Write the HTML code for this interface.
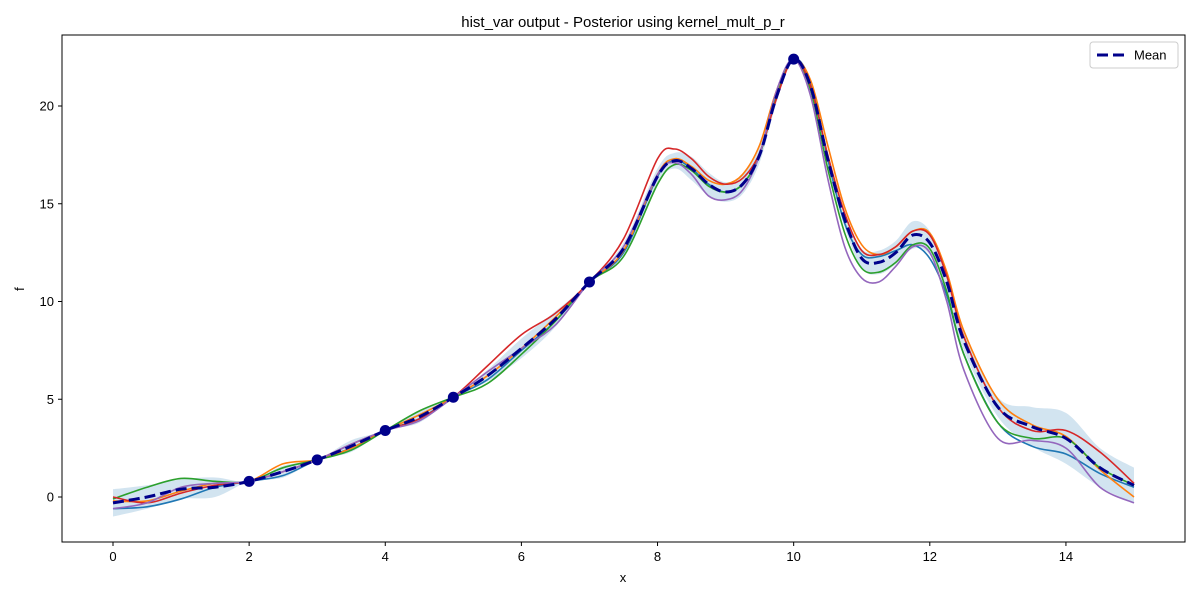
<!DOCTYPE html>
<html><head><meta charset="utf-8"><style>
body{margin:0;background:#fff;font-family:"Liberation Sans","DejaVu Sans",sans-serif}
svg text{font-family:"Liberation Sans","DejaVu Sans",sans-serif;fill:#000}
</style></head><body>
<svg id="chart" width="1200" height="600"></svg>
<script>
const xs=[0,0.5,1,1.5,2,2.5,3,3.5,4,4.5,5,5.5,6,6.5,7,7.5,8,8.25,8.5,8.75,9,9.25,9.5,9.75,10,10.25,10.5,10.75,11,11.25,11.5,11.75,12,12.25,12.5,13,13.5,14,14.5,15];
const meanVals=[-0.3,0,0.4,0.5,0.8,1.3,1.9,2.6,3.4,4.1,5.1,6.2,7.6,9.1,11.0,12.7,16.4,17.2,16.8,16.0,15.6,16.0,17.5,20.5,22.4,21.0,17.3,14.2,12.2,12.0,12.5,13.4,13.0,11.0,8.0,4.6,3.6,3.0,1.5,0.6];
const sdVals=[0.7,0.6,0.5,0.5,0,0.3,0,0.3,0,0.3,0,0.3,0.5,0.4,0,0.3,0.4,0.4,0.6,0.6,0.5,0.5,0.4,0.3,0,0.3,0.4,0.4,0.5,0.6,0.6,0.7,0.6,0.5,0.5,0.5,1.0,1.3,1.0,0.9];
const blueVals=[-0.6,-0.5,-0.1,0.5,0.8,1.1,1.9,2.5,3.4,4.0,5.1,6.0,7.5,9.0,11.0,12.5,16.4,17.2,16.8,16.0,15.6,16.0,17.5,20.5,22.4,21.2,17.3,14.0,12.4,12.3,12.6,12.9,12.2,10.3,7.3,3.8,2.6,2.2,1.2,0.5];
const orangeVals=[-0.2,-0.2,0.3,0.7,0.8,1.7,1.9,2.5,3.4,4.2,5.1,6.2,7.6,9.2,11.0,12.6,16.5,17.3,16.9,16.2,16.0,16.5,18.0,20.8,22.4,21.3,18.0,14.8,12.9,12.4,12.8,13.6,13.5,11.5,8.5,5.0,3.7,3.1,1.4,0.0];
const greenVals=[-0.1,0.5,0.95,0.8,0.8,1.5,1.9,2.4,3.4,4.4,5.1,5.8,7.3,9.0,11.0,12.3,16.0,17.0,16.7,15.9,15.6,16.0,17.5,20.5,22.4,20.8,16.8,13.5,11.7,11.5,12.0,12.9,12.7,10.5,7.3,3.8,3.0,3.0,1.5,0.6];
const redVals=[0,-0.3,0.2,0.6,0.8,1.3,1.9,2.7,3.4,4.0,5.1,6.7,8.3,9.4,11.0,13.2,17.3,17.8,17.3,16.4,16.0,16.3,17.6,20.4,22.4,21.0,17.5,14.5,12.6,12.4,12.8,13.6,13.4,11.3,8.2,4.6,3.4,3.4,2.3,0.7];
const purpleVals=[-0.6,-0.3,0.5,0.7,0.8,1.3,1.9,2.7,3.4,3.9,5.1,6.4,7.6,8.8,11.0,12.8,16.5,17.1,16.5,15.4,15.2,15.7,17.5,20.8,22.4,20.5,16.3,12.8,11.2,11.0,11.8,12.8,12.5,10.0,6.5,3.0,2.9,2.5,0.5,-0.3];
const obsX=[2,3,4,5,7,10];
const obsY=[0.8,1.9,3.4,5.1,11.0,22.4];
const xTicks=[0,2,4,6,8,10,12,14];
const yTicks=[0,5,10,15,20];

const NS="http://www.w3.org/2000/svg";
const svg=document.getElementById('chart');
const L=62,R=1185,T=35,B=542;
const sx=v=>113+v*(1134-113)/15;
const sy=v=>497-v*(497-106)/20;
function mk(tag,attrs,parent){const e=document.createElementNS(NS,tag);for(const k in attrs)e.setAttribute(k,attrs[k]);(parent||svg).appendChild(e);return e;}
function smooth(pts){let d=`M${pts[0][0]},${pts[0][1]}`;for(let i=0;i<pts.length-1;i++){const p0=pts[Math.max(0,i-1)],p1=pts[i],p2=pts[i+1],p3=pts[Math.min(pts.length-1,i+2)];const c1=[p1[0]+(p2[0]-p0[0])/6,p1[1]+(p2[1]-p0[1])/6],c2=[p2[0]-(p3[0]-p1[0])/6,p2[1]-(p3[1]-p1[1])/6];d+=` C${c1[0]},${c1[1]} ${c2[0]},${c2[1]} ${p2[0]},${p2[1]}`;}return d;}

// band
const up=xs.map((x,i)=>[sx(x),sy(meanVals[i]+sdVals[i])]);
const lo=xs.map((x,i)=>[sx(x),sy(meanVals[i]-sdVals[i])]).reverse();
let bd=smooth(up)+' L'+smooth(lo).slice(1)+' Z';
const band=mk('path',{d:bd,fill:'#1f77b4','fill-opacity':0.2,stroke:'none'});



const series=[[blueVals,'#1f77b4','sample-1'],[orangeVals,'#ff7f0e','sample-2'],[greenVals,'#2ca02c','sample-3'],[redVals,'#d62728','sample-4'],[purpleVals,'#9467bd','sample-5']];
series.forEach(([vals,c,n])=>{
  const p=mk('path',{d:smooth(xs.map((x,i)=>[sx(x),sy(vals[i])])),fill:'none',stroke:c,'stroke-width':1.6});
  
  
});
const mp=mk('path',{d:smooth(xs.map((x,i)=>[sx(x),sy(meanVals[i])])),fill:'none',stroke:'#00008b','stroke-width':3,'stroke-dasharray':'11,5'});


obsX.forEach((x,i)=>{
  const c=mk('circle',{cx:sx(x),cy:sy(obsY[i]),r:5.5,fill:'#00008b'});
  
  
});

// frame
const fr=mk('rect',{x:L,y:T,width:R-L,height:B-T,fill:'none',stroke:'#000','stroke-width':1});


xTicks.forEach(t=>{
  mk('line',{x1:sx(t),x2:sx(t),y1:B,y2:B+4,stroke:'#000'});
  const tx=mk('text',{x:sx(t),y:B+19,'text-anchor':'middle','font-size':13});tx.textContent=t;
  
  
});
yTicks.forEach(t=>{
  mk('line',{x1:L-4,x2:L,y1:sy(t),y2:sy(t),stroke:'#000'});
  const tx=mk('text',{x:L-8,y:sy(t)+4.5,'text-anchor':'end','font-size':13});tx.textContent=t;
  
  
});
const xt=mk('text',{x:623,y:582,'text-anchor':'middle','font-size':13});xt.textContent='x';


const yt=mk('text',{x:24,y:289,'text-anchor':'middle','font-size':13,transform:'rotate(-90 24 289)'});yt.textContent='f';


const ti=mk('text',{x:623,y:27,'text-anchor':'middle','font-size':15});ti.textContent='hist_var output - Posterior using kernel_mult_p_r';



// legend
const lg=mk('g',{});


mk('rect',{x:1090,y:42,width:88,height:26,rx:3,fill:'#fff',stroke:'#ccc'},lg);
mk('line',{x1:1097,x2:1125,y1:55,y2:55,stroke:'#00008b','stroke-width':3,'stroke-dasharray':'11,5'},lg);
const lt=mk('text',{x:1134,y:59.5,'font-size':13},lg);lt.textContent='Mean';


</script>
</body></html>
